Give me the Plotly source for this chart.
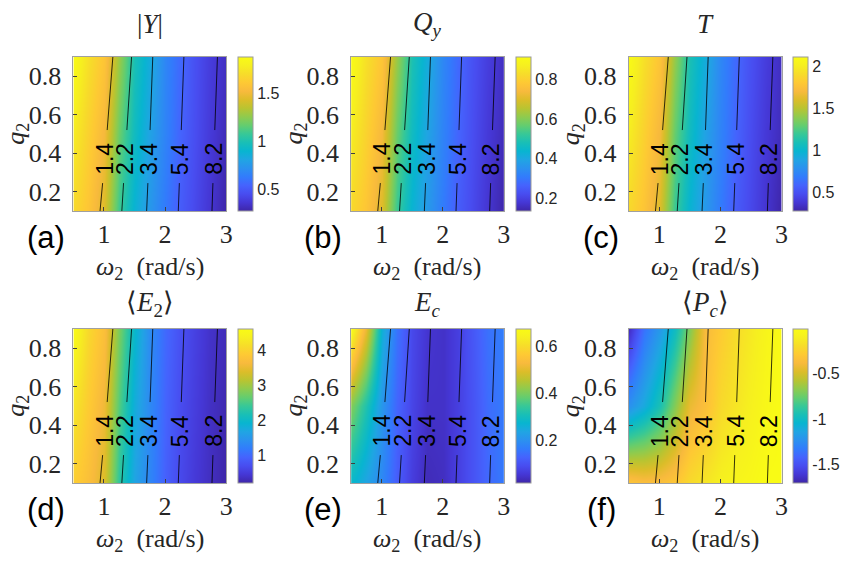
import numpy as np
import plotly.graph_objects as go

# ---------------- data ----------------
OMEGA2 = [0.5, 0.75, 1.0, 1.25, 1.5, 1.75, 2.0, 2.25, 2.5, 2.75, 3.0]
Q2 = [0.1, 0.5, 0.9]

# rows: q2 = 0.1, 0.5, 0.9
Y_ABS = [
    [1.69, 1.59, 1.43, 1.08, 0.88, 0.75, 0.62, 0.51, 0.43, 0.35, 0.27],
    [1.78, 1.65, 1.51, 1.17, 0.95, 0.80, 0.66, 0.54, 0.45, 0.37, 0.30],
    [1.88, 1.72, 1.59, 1.27, 0.99, 0.85, 0.67, 0.56, 0.46, 0.38, 0.32],
]
Q_Y = [
    [0.820, 0.774, 0.696, 0.525, 0.431, 0.369, 0.306, 0.252, 0.213, 0.174, 0.135],
    [0.867, 0.805, 0.735, 0.571, 0.462, 0.392, 0.322, 0.267, 0.221, 0.182, 0.151],
    [0.914, 0.836, 0.774, 0.618, 0.486, 0.415, 0.330, 0.275, 0.228, 0.190, 0.158],
]
T_VAL = [
    [1.89, 1.78, 1.60, 1.20, 0.98, 0.83, 0.68, 0.55, 0.46, 0.37, 0.28],
    [2.00, 1.85, 1.69, 1.30, 1.05, 0.88, 0.72, 0.59, 0.48, 0.39, 0.32],
    [2.11, 1.93, 1.78, 1.41, 1.10, 0.94, 0.74, 0.61, 0.50, 0.41, 0.33],
]
E2_MEAN = [
    [3.94, 3.72, 3.37, 2.32, 1.67, 1.32, 0.92, 0.66, 0.48, 0.35, 0.22],
    [4.25, 3.90, 3.55, 2.54, 1.80, 1.36, 0.96, 0.70, 0.53, 0.37, 0.26],
    [4.60, 4.07, 3.72, 2.76, 1.97, 1.40, 1.01, 0.75, 0.57, 0.40, 0.31],
]
E_C = [
    [0.282, 0.236, 0.184, 0.118, 0.066, 0.033, 0.040, 0.072, 0.105, 0.138, 0.164],
    [0.410, 0.320, 0.210, 0.131, 0.079, 0.046, 0.046, 0.072, 0.105, 0.144, 0.164],
    [0.674, 0.510, 0.260, 0.151, 0.085, 0.053, 0.046, 0.072, 0.112, 0.151, 0.170],
]
PC_MEAN = [
    [-0.31, -0.35, -0.35, -0.31, -0.21, -0.15, -0.09, -0.06, -0.04, -0.01, -0.01],
    [-1.23, -1.11, -0.94, -0.69, -0.43, -0.35, -0.21, -0.15, -0.09, -0.04, -0.01],
    [-1.65, -1.36, -1.19, -0.99, -0.69, -0.38, -0.28, -0.20, -0.13, -0.06, -0.01],
]

# contour field (same in every panel), rows q2 = 0.1 and 0.9
CONTOUR_Q2 = [0.1, 0.9]
CONTOUR_FIELD = [
    [0.65, 1.02, 1.53, 2.08, 2.78, 3.56, 4.48, 5.54, 6.77, 8.10, 9.47],
    [0.30, 0.60, 1.05, 1.65, 2.33, 3.22, 4.14, 5.13, 6.28, 7.64, 8.94],
]
CONTOUR_LEVELS = [1.4, 2.2, 3.4, 5.4, 8.2]
LEVEL_LABELS = ["1.4", "2.2", "3.4", "5.4", "8.2"]

PANEL_TITLES = ["|<i>Y</i>|", "<i>Q<sub>y</sub></i>", "<i>T</i>",
                "⟨<i>E</i><sub>2</sub>⟩", "<i>E<sub>c</sub></i>", "⟨<i>P<sub>c</sub></i>⟩"]
PANEL_TAGS = ["(a)", "(b)", "(c)", "(d)", "(e)", "(f)"]
PANEL_DATA = [Y_ABS, Q_Y, T_VAL, E2_MEAN, E_C, PC_MEAN]
ZRANGES = [(0.27, 1.88), (0.135, 0.914), (0.28, 2.11), (0.22, 4.6), (0.02, 0.674), (-1.70, -0.01)]
CB_TICKS = [[0.5, 1, 1.5], [0.2, 0.4, 0.6, 0.8], [0.5, 1, 1.5, 2], [1, 2, 3, 4], [0.2, 0.4, 0.6], [-1.5, -1, -0.5]]
CB_TICKTEXT = [["0.5", "1", "1.5"], ["0.2", "0.4", "0.6", "0.8"], ["0.5", "1", "1.5", "2"],
               ["1", "2", "3", "4"], ["0.2", "0.4", "0.6"], ["-1.5", "-1", "-0.5"]]
X_TICKS = [1, 2, 3]
Y_TICKS = [0.2, 0.4, 0.6, 0.8]

# ---------------- style ----------------
PARULA = [
    (0.2422, 0.1504, 0.6603), (0.2706, 0.2147, 0.8364), (0.2813, 0.3006, 0.9414),
    (0.2699, 0.3892, 0.9906), (0.1963, 0.4847, 0.9892), (0.1687, 0.5703, 0.9359),
    (0.1248, 0.6459, 0.8883), (0.0297, 0.7082, 0.8163), (0.0964, 0.7500, 0.7120),
    (0.2161, 0.7843, 0.5923), (0.3909, 0.8029, 0.4354), (0.5616, 0.7942, 0.3045),
    (0.7242, 0.7698, 0.1910), (0.8634, 0.7406, 0.1596), (0.9728, 0.7298, 0.2394),
    (0.9952, 0.7893, 0.2028), (0.9676, 0.8639, 0.1643), (0.9628, 0.9373, 0.1265),
    (0.9769, 0.9839, 0.0805),
]
n = len(PARULA)
COLORSCALE = [[i / (n - 1), "rgb(%d,%d,%d)" % tuple(round(c * 255) for c in col)]
              for i, col in enumerate(PARULA)]

W, H = 855, 562
SERIF = "Liberation Serif, Times New Roman, serif"
SANS = "Liberation Sans, Arial, sans-serif"
TXT = "#262626"

# pixel layout of plot areas
COL_X = [(74, 228), (354, 508), (634, 788)]
ROW_Y = [(57, 211), (329, 483)]
CB_X = [240, 520, 800]

GAP_LOW, GAP_HIGH, LABEL_Q = 0.245, 0.52, 0.37

fig = go.Figure()
cf = np.array(CONTOUR_FIELD)


def field_row(q):
    t = (q - CONTOUR_Q2[0]) / (CONTOUR_Q2[1] - CONTOUR_Q2[0])
    return cf[0] + t * (cf[1] - cf[0])


annotations = []
for k in range(6):
    r, c = divmod(k, 3)
    ax = "" if k == 0 else str(k + 1)
    xa, ya = "x" + ax, "y" + ax
    x0, x1 = COL_X[c]
    y0, y1 = ROW_Y[r]
    zmin, zmax = ZRANGES[k]
    fig.add_trace(go.Heatmap(
        x=OMEGA2, y=Q2, z=PANEL_DATA[k], zmin=zmin, zmax=zmax, zsmooth="best",
        colorscale=COLORSCALE, xaxis=xa, yaxis=ya, hoverinfo="skip",
        colorbar=dict(
            x=CB_X[c] / W, xanchor="left", xpad=0, ypad=0,
            y=1 - (y0 + y1) / 2 / H, yanchor="middle", len=(y1 - y0) / H, lenmode="fraction",
            thickness=15, outlinecolor="#9a9a9a", outlinewidth=1,
            tickvals=CB_TICKS[k], ticktext=CB_TICKTEXT[k], ticks="",
            tickfont=dict(family=SANS, size=16, color=TXT),
        ),
    ))
    # contour lines (lower and upper segments, leaving a gap for labels)
    for qa, qb in [(CONTOUR_Q2[0], GAP_LOW), (GAP_HIGH, CONTOUR_Q2[1])]:
        zz = [field_row(qa).tolist(), field_row(qb).tolist()]
        for lvl in CONTOUR_LEVELS:
            fig.add_trace(go.Contour(
                x=OMEGA2, y=[qa, qb], z=zz, xaxis=xa, yaxis=ya,
                contours=dict(type="constraint", operation="=", value=lvl),
                line=dict(color="black", width=0.8), showscale=False,
                hoverinfo="skip", showlegend=False,
            ))
    lab_row = field_row(LABEL_Q)
    for lvl, txt in zip(CONTOUR_LEVELS, LEVEL_LABELS):
        annotations.append(dict(
            x=float(np.interp(lvl, lab_row, OMEGA2)), y=LABEL_Q, xref=xa, yref=ya,
            text=txt, textangle=-90, showarrow=False, xanchor="center", yanchor="middle",
            font=dict(family=SANS, size=23, color="black"),
        ))
    axis_common = dict(showline=True, mirror=True, linecolor="#a0a0a0", linewidth=1,
                       ticks="inside", ticklen=4, tickcolor="#404040", showgrid=False,
                       zeroline=False, tickfont=dict(family=SERIF, size=26, color=TXT))
    fig.update_layout({
        "xaxis" + ax: dict(domain=[x0 / W, x1 / W], range=[0.5, 3], anchor=ya,
                           tickvals=X_TICKS, ticklabelstandoff=0, **axis_common),
        "yaxis" + ax: dict(domain=[1 - y1 / H, 1 - y0 / H], range=[0.1, 0.9], anchor=xa,
                           tickvals=Y_TICKS, ticklabelstandoff=6, **axis_common),
    })
    xc = (x0 + x1) / 2 / W
    title_y = [24, 304][r]
    annotations.append(dict(x=xc, y=1 - title_y / H, xref="paper", yref="paper",
                            text=PANEL_TITLES[k], showarrow=False, xanchor="center", yanchor="middle",
                            font=dict(family=SERIF, size=27, color=TXT)))
    annotations.append(dict(x=xc, y=1 - (y1 + 57) / H, xref="paper", yref="paper",
                            text="<i>ω</i><sub>2</sub>  (rad/s)", showarrow=False,
                            xanchor="center", yanchor="middle",
                            font=dict(family=SERIF, size=26, color=TXT)))
    annotations.append(dict(x=(x0 - 57) / W, y=1 - (y0 + y1) / 2 / H, xref="paper", yref="paper",
                            text="<i>q</i><sub>2</sub>", showarrow=False, textangle=-90,
                            xanchor="center", yanchor="middle",
                            font=dict(family=SERIF, size=26, color=TXT)))
    annotations.append(dict(x=(x0 - 28) / W, y=1 - (y1 + 26) / H, xref="paper", yref="paper",
                            text=PANEL_TAGS[k], showarrow=False, xanchor="center", yanchor="middle",
                            font=dict(family=SANS, size=31, color="black")))

fig.update_layout(width=W, height=H, margin=dict(l=0, r=0, t=0, b=0),
                  paper_bgcolor="white", plot_bgcolor="white",
                  showlegend=False, annotations=annotations)
fig.write_html("out.html")
